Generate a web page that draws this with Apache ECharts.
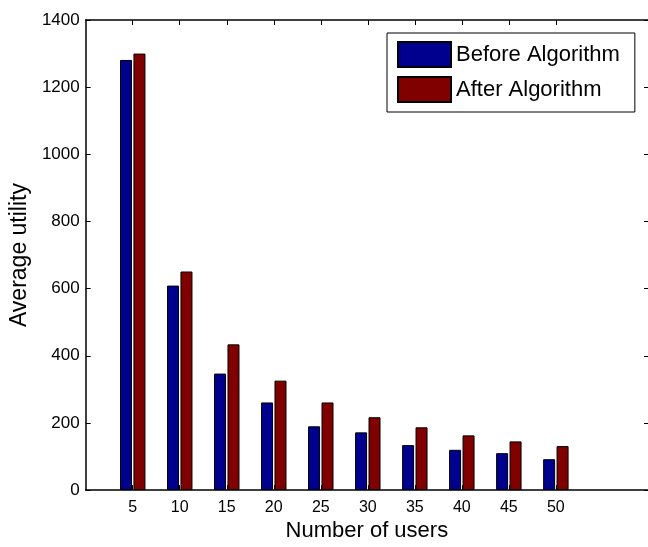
<!DOCTYPE html>
<html>
<head>
<meta charset="utf-8">
<script src="https://cdn.jsdelivr.net/npm/echarts@6/dist/echarts.min.js"></script>
<style>
	html, body { margin: 0; padding: 0; background: #fff; }
	#chart { width: 648px; height: 547px; }
</style>
</head>
<body>
<div id="chart"></div>
<script>
//数据
var users = [ 5, 10, 15, 20, 25, 30, 35, 40, 45, 50 ];
var beforeAlg = [ 1281, 609, 347, 261, 190, 172, 134, 120, 110, 92 ];
var afterAlg = [ 1300, 651, 434, 326, 261, 217, 187, 163, 145, 131 ];
var yTicks = [ 0, 200, 400, 600, 800, 1000, 1200, 1400 ];

var FONT = 'Liberation Sans, Arial, sans-serif';

function pairs( xs, ys )
{
	var out = [];
	for( var i = 0; i < xs.length; i++ )
	{
		out.push( [ xs[i], ys[i] ] );
	}
	return out;
}

var chart = echarts.init( document.getElementById( 'chart' ) );
chart.setOption({
	animation: false,
	backgroundColor: '#fff',
	grid: { left: 84, top: 20, right: 0, bottom: 51 },
	legend: {
		orient: 'vertical',
		left: 387,
		top: 33,
		padding: [ 8, 15, 9, 10 ],
		itemGap: 8,
		itemWidth: 53,
		itemHeight: 25,
		borderColor: '#000',
		borderWidth: 1,
		backgroundColor: '#fff',
		icon: 'rect',
		textStyle: { fontFamily: FONT, fontSize: 22, lineHeight: 25, color: '#000' },
		data: [ 'Before Algorithm', 'After Algorithm' ]
	},
	xAxis: [
		{
			type: 'value',
			position: 'bottom',
			min: 0,
			max: 59.8,
			interval: 5,
			name: 'Number of users',
			nameLocation: 'middle',
			nameGap: 25,
			nameTextStyle: { fontFamily: FONT, fontSize: 22, color: '#000' },
			axisLine: { show: true, onZero: false, lineStyle: { color: '#000', width: 1.5 } },
			axisTick: { show: true, inside: true, length: 5, customValues: users, lineStyle: { color: '#000' } },
			axisLabel: {
				fontFamily: FONT, fontSize: 16, color: '#000', margin: 9,
				customValues: users,
				formatter: function( v ){ return users.indexOf( v ) >= 0 ? String( v ) : ''; }
			},
			splitLine: { show: false }
		},
		{
			type: 'value',
			position: 'top',
			min: 0,
			max: 59.8,
			interval: 5,
			axisLine: { show: true, onZero: false, lineStyle: { color: '#000', width: 1.5 } },
			axisTick: { show: true, inside: true, length: 5, customValues: users, lineStyle: { color: '#000' } },
			axisLabel: { show: false },
			splitLine: { show: false }
		}
	],
	yAxis: [
		{
			type: 'value',
			position: 'left',
			min: 0,
			max: 1400,
			interval: 200,
			name: 'Average utility',
			nameLocation: 'middle',
			nameGap: 53,
			nameTextStyle: { fontFamily: FONT, fontSize: 23, color: '#000' },
			axisLine: { show: true, onZero: false, lineStyle: { color: '#000', width: 1.5 } },
			axisTick: { show: true, inside: true, length: 5, lineStyle: { color: '#000' } },
			axisLabel: {
				fontFamily: FONT, fontSize: 17, color: '#000', margin: 6,
				formatter: function( v ){ return yTicks.indexOf( v ) >= 0 ? String( v ) : ''; }
			},
			splitLine: { show: false }
		},
		{
			type: 'value',
			position: 'right',
			min: 0,
			max: 1400,
			interval: 200,
			axisLine: { show: false, onZero: false },
			axisTick: { show: true, inside: true, length: 4, lineStyle: { color: '#000' } },
			axisLabel: { show: false },
			splitLine: { show: false }
		}
	],
	series: [
		{
			name: 'Before Algorithm',
			type: 'bar',
			xAxisIndex: 0,
			yAxisIndex: 0,
			barWidth: 12,
			barGap: '12%',
			itemStyle: { color: '#00008f', borderColor: '#000', borderWidth: 1 },
			data: pairs( users, beforeAlg )
		},
		{
			name: 'After Algorithm',
			type: 'bar',
			xAxisIndex: 0,
			yAxisIndex: 0,
			barWidth: 12,
			barGap: '12%',
			itemStyle: { color: '#800000', borderColor: '#000', borderWidth: 1 },
			data: pairs( users, afterAlg )
		}
	]
});
</script>
</body>
</html>
